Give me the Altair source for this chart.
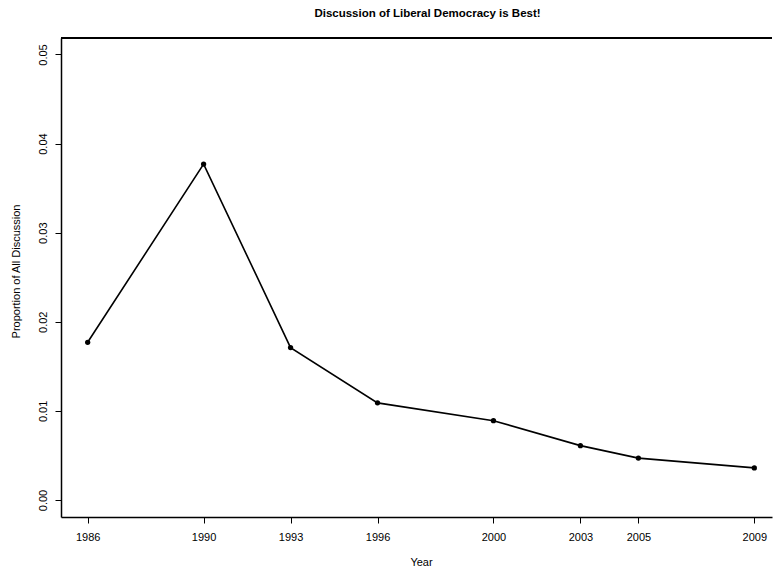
import altair as alt
import pandas as pd

# Survey years and the share of all discussion given to the theme
years = [1986, 1990, 1993, 1996, 2000, 2003, 2005, 2009]
share = [0.0177, 0.0377, 0.0171, 0.0109, 0.0089, 0.0061, 0.0047, 0.0036]

y_ticks = [0.00, 0.01, 0.02, 0.03, 0.04, 0.05]

df = pd.DataFrame({"year": years, "share": share})

FONT = "Liberation Sans"
W, H = 711, 479

x_enc = alt.X(
    "year:Q",
    scale=alt.Scale(domain=[1985.08, 2009.61], nice=False, zero=False),
    axis=alt.Axis(
        values=years, format="d", title="Year",
        tickSize=6, tickColor="black", tickWidth=1,
        domainColor="black", domainWidth=1.5,
        labelPadding=8, labelFontSize=11, labelFont=FONT, labelColor="black",
        titleFont=FONT, titleFontSize=11, titleFontWeight="normal", titleColor="black",
        titleX=360, titleY=45, titleBaseline="middle", titleAlign="center",
        grid=False, labelFlush=False,
    ),
)

y_enc = alt.Y(
    "share:Q",
    scale=alt.Scale(domain=[-0.00191, 0.05185], nice=False, zero=False),
    axis=alt.Axis(
        values=y_ticks, format=".2f", title="Proportion of All Discussion",
        tickSize=6, tickColor="black", tickWidth=1,
        domainColor="black", domainWidth=1.5,
        labelAngle=270, labelAlign="center", labelBaseline="middle",
        labelPadding=12, labelFontSize=11, labelFont=FONT, labelColor="black",
        titleFont=FONT, titleFontSize=11, titleFontWeight="normal", titleColor="black",
        titleAngle=270, titleX=-45, titleY=233, titleBaseline="middle", titleAlign="center",
        grid=False, labelFlush=False,
    ),
)

base = alt.Chart(df).encode(x=x_enc, y=y_enc)

line = base.mark_line(color="black", strokeWidth=1.6)
points = base.mark_circle(color="black", size=28, opacity=1)

# upper edge of the plotting frame
top_edge = alt.Chart(df).mark_rule(color="black", strokeWidth=1.5).encode(
    x=alt.value(0), x2=alt.value(W), y=alt.value(0)
)

chart = (
    alt.layer(line, points, top_edge)
    .properties(
        width=W,
        height=H,
        title=alt.TitleParams(
            "Discussion of Liberal Democracy is Best!",
            font=FONT, fontSize=11.5, fontWeight="bold", color="black",
            anchor="middle", frame="group", dx=11, offset=18,
        ),
        autosize=alt.AutoSizeParams(type="none"),
        padding={"left": 61, "top": 38, "right": 1, "bottom": 51},
        background="white",
    )
    .configure_view(stroke=None)
)

chart.save("out.html", embed_options={"renderer": "svg", "actions": False})
